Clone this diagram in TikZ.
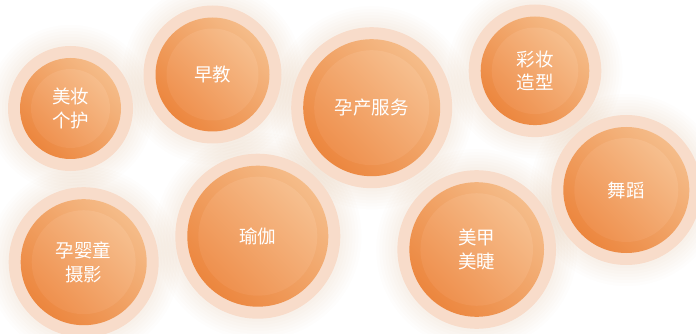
\documentclass[tikz,border=0pt]{standalone}
\usepackage{fontspec}
\newfontfamily\cjk{Noto Sans CJK SC}
\definecolor{halo}{RGB}{248,220,202}
\definecolor{glow}{RGB}{240,160,110}
\definecolor{darkor}{RGB}{236,134,62}
\definecolor{lightor}{RGB}{245,188,137}
\definecolor{darkin}{RGB}{238,140,72}
\definecolor{lightin}{RGB}{247,195,148}
\tikzset{
  bubble/.style={circle, minimum size={2*#1*1pt}, inner sep=0pt,
    top color=lightor, bottom color=darkor, shading angle=-45,
    text=white, font=\cjk\fontsize{18.5}{23.5}\selectfont, align=center,
    path picture={\shade[top color=lightin, bottom color=darkin, shading angle=-45]
      (path picture bounding box.center) circle ({(#1-11)*1pt});}},
  halofill/.style={fill=halo},
  glowfill/.style={fill=glow, opacity=0.02}
}
\begin{document}
\begin{tikzpicture}[x=1pt,y=-1pt]
\useasboundingbox (0,0) rectangle (696,334);
\fill[white] (0,0) rectangle (696,334);
\def\bubbles{mz/70.5/108.5/50.5/{美妆\\个护}, zj/212.5/74.5/57/{早教}, yc/371.7/107.7/68.5/{孕产服务}, cz/535/70.8/54.3/{彩妆\\造型}, wd/626.3/190/63/{舞蹈}, ys/83.7/262.2/63/{孕婴童\\摄影}, yj/257.8/236.2/70.5/{瑜伽}, mj/476.7/249.5/67.3/{美甲\\美睫}}
\foreach \n/\x/\y/\r/\t in \bubbles {
  \foreach \k in {3,6,...,21} {
    \fill[glowfill] (\x,\y) circle ({(\r+12+\k)*1pt});
  }
}
\foreach \n/\x/\y/\r/\t in \bubbles {
  \fill[halofill] (\x,\y) circle ({(\r+12)*1pt});
}
\foreach \n/\x/\y/\r/\t in \bubbles {
  \node[bubble=\r] (\n) at (\x,\y) {\t};
}
\end{tikzpicture}
\end{document}
